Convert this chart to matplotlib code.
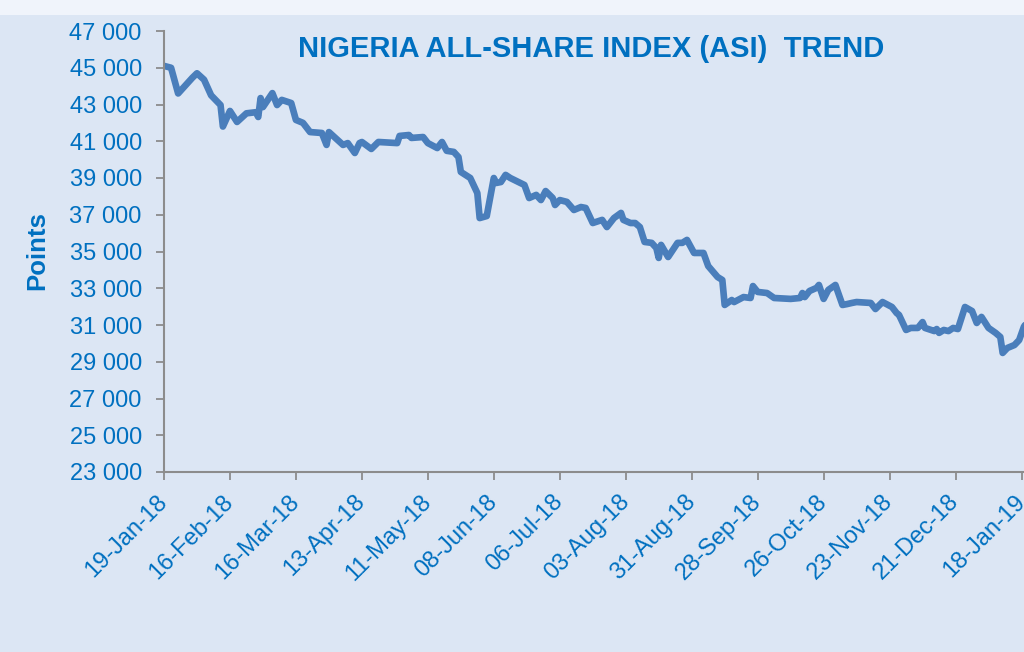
import matplotlib
matplotlib.use('Agg')
import matplotlib.pyplot as plt
import matplotlib.dates as mdates
from matplotlib.patches import Rectangle
from matplotlib.ticker import FuncFormatter
import pandas as pd

# ASI closing levels
dates = [
    "2018-01-19", "2018-01-22", "2018-01-25", "2018-01-31", "2018-02-02", "2018-02-05",
    "2018-02-08", "2018-02-12", "2018-02-13", "2018-02-16", "2018-02-19", "2018-02-23",
    "2018-02-27", "2018-02-28", "2018-03-01", "2018-03-02", "2018-03-06", "2018-03-08",
    "2018-03-10", "2018-03-14", "2018-03-16", "2018-03-19", "2018-03-22", "2018-03-27",
    "2018-03-29", "2018-03-30", "2018-04-05", "2018-04-07", "2018-04-10", "2018-04-12",
    "2018-04-13", "2018-04-17", "2018-04-20", "2018-04-28", "2018-04-29", "2018-05-03",
    "2018-05-04", "2018-05-09", "2018-05-11", "2018-05-15", "2018-05-17", "2018-05-19",
    "2018-05-22", "2018-05-24", "2018-05-25", "2018-05-29", "2018-06-01", "2018-06-02",
    "2018-06-05", "2018-06-08", "2018-06-09", "2018-06-11", "2018-06-13", "2018-06-15",
    "2018-06-21", "2018-06-23", "2018-06-26", "2018-06-28", "2018-06-30", "2018-07-03",
    "2018-07-04", "2018-07-06", "2018-07-09", "2018-07-12", "2018-07-15", "2018-07-17",
    "2018-07-20", "2018-07-24", "2018-07-26", "2018-07-29", "2018-08-01", "2018-08-02",
    "2018-08-05", "2018-08-07", "2018-08-09", "2018-08-11", "2018-08-14", "2018-08-16",
    "2018-08-17", "2018-08-18", "2018-08-21", "2018-08-25", "2018-08-27", "2018-08-29",
    "2018-09-01", "2018-09-05", "2018-09-07", "2018-09-11", "2018-09-13", "2018-09-14",
    "2018-09-17", "2018-09-18", "2018-09-22", "2018-09-25", "2018-09-26", "2018-09-28",
    "2018-10-02", "2018-10-05", "2018-10-12", "2018-10-16", "2018-10-17", "2018-10-18",
    "2018-10-20", "2018-10-23", "2018-10-24", "2018-10-26", "2018-10-28", "2018-10-31",
    "2018-11-03", "2018-11-05", "2018-11-07", "2018-11-09", "2018-11-15", "2018-11-17",
    "2018-11-20", "2018-11-24", "2018-11-26", "2018-11-27", "2018-11-30", "2018-12-02",
    "2018-12-05", "2018-12-07", "2018-12-08", "2018-12-12", "2018-12-13", "2018-12-14",
    "2018-12-16", "2018-12-18", "2018-12-20", "2018-12-22", "2018-12-25", "2018-12-28",
    "2018-12-30", "2019-01-01", "2019-01-04", "2019-01-07", "2019-01-09", "2019-01-10",
    "2019-01-12", "2019-01-15", "2019-01-17", "2019-01-19", "2019-01-21",
]
asi = [
    45100, 45000, 43600, 44450, 44700, 44350,
    43500, 42970, 41800, 42650, 42050, 42520,
    42580, 42320, 43350, 42860, 43620, 42970,
    43250, 43080, 42160, 42000, 41500, 41450,
    40800, 41500, 40800, 40900, 40360, 40900,
    40960, 40580, 40960, 40900, 41290, 41340,
    41180, 41230, 40900, 40630, 40960, 40480,
    40420, 40140, 39330, 39000, 38180, 36820,
    36930, 39000, 38730, 38780, 39170, 39000,
    38620, 37910, 38080, 37800, 38290, 37910,
    37530, 37800, 37700, 37260, 37420, 37370,
    36550, 36720, 36330, 36820, 37100, 36720,
    36550, 36550, 36330, 35520, 35470, 35190,
    34650, 35360, 34700, 35470, 35470, 35630,
    34920, 34920, 34210, 33610, 33450, 32090,
    32360, 32250, 32520, 32470, 33120, 32800,
    32740, 32470, 32420, 32470, 32740, 32520,
    32850, 33020, 33180, 32420, 32910, 33180,
    32090, 32140, 32200, 32250, 32200, 31870,
    32250, 31980, 31650, 31550, 30730, 30840,
    30840, 31160, 30840, 30670, 30780, 30570,
    30730, 30670, 30840, 30780, 31980, 31760,
    31110, 31440, 30840, 30570, 30350, 29480,
    29750, 29910, 30180, 30900, 31300,
]
y_ticks = list(range(23000, 47001, 2000))
x_ticks = pd.date_range("2018-01-19", "2019-01-18", freq="28D")

BG = '#dce6f4'
TEXT = '#0070c0'
LINE = '#4a7ebb'
AXIS = '#8c8c8c'

fig = plt.figure(figsize=(10.24, 6.52), dpi=100)
fig.patch.set_facecolor(BG)
fig.patches.append(Rectangle((0, 1 - 15 / 652), 1, 15 / 652, transform=fig.transFigure,
                             facecolor='#f0f4fb', edgecolor='none', zorder=0))

# axes deliberately runs past the right edge, like the cropped original
ax = fig.add_axes([164 / 1024, 1 - 472 / 652, 874 / 1024, 441 / 652])
ax.set_facecolor(BG)

ax.plot(pd.to_datetime(dates), asi, color=LINE, linewidth=4.8, solid_joinstyle='round',
        solid_capstyle='round')

ax.set_xlim(pd.Timestamp("2018-01-19"), pd.Timestamp("2018-01-19") + pd.Timedelta(days=371))
ax.set_ylim(23000, 47000)
ax.set_yticks(y_ticks)
ax.yaxis.set_major_formatter(FuncFormatter(lambda v, p: f"{int(v):,}".replace(",", " ")))
ax.set_xticks(x_ticks)
ax.xaxis.set_major_formatter(mdates.DateFormatter('%d-%b-%y'))

for side in ['top', 'right']:
    ax.spines[side].set_visible(False)
for side in ['left', 'bottom']:
    ax.spines[side].set_color(AXIS)
    ax.spines[side].set_linewidth(1.5)

font = ['Liberation Sans', 'DejaVu Sans']
ax.tick_params(axis='y', colors=AXIS, labelcolor=TEXT, labelsize=17, length=6, width=1.3, pad=10)
ax.tick_params(axis='x', colors=AXIS, labelcolor=TEXT, labelsize=17, length=6, width=1.3, pad=13)
for lbl in ax.get_yticklabels():
    lbl.set_family(font)
for lbl in ax.get_xticklabels():
    lbl.set_family(font)
    lbl.set_rotation(45)
    lbl.set_ha('right')
    lbl.set_va('center')
    lbl.set_rotation_mode('anchor')

fig.text(591 / 1024, 1 - 49 / 652, "NIGERIA ALL-SHARE INDEX (ASI)  TREND", ha='center', va='center',
         fontsize=21, fontweight='bold', color=TEXT, family=font)
fig.text(37 / 1024, 1 - 251 / 652, "Points", rotation=90, ha='center', va='center',
         fontsize=18.5, fontweight='bold', color=TEXT, family=font)

fig.savefig('out.png', dpi=100, facecolor=fig.get_facecolor())
